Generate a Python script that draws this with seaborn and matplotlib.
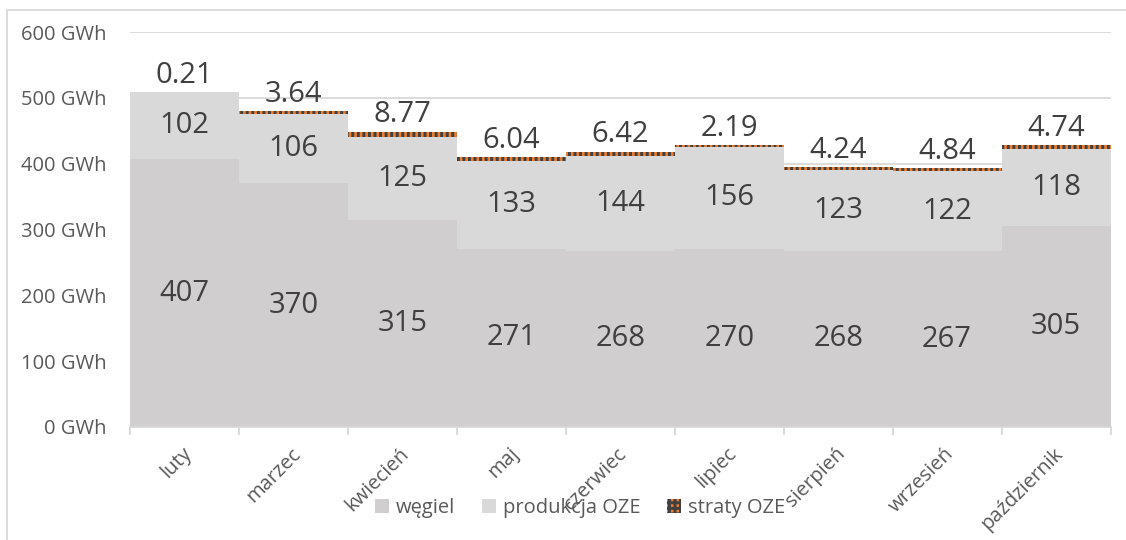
import matplotlib
matplotlib.use("Agg")
import matplotlib.pyplot as plt
from matplotlib.patches import Patch
from matplotlib.lines import Line2D
import seaborn as sns
import pandas as pd
import numpy as np

months = ["luty", "marzec", "kwiecień", "maj", "czerwiec", "lipiec", "sierpień", "wrzesień", "październik"]
wegiel = [407, 370, 315, 271, 268, 270, 268, 267, 305]
oze = [102, 106, 125, 133, 144, 156, 123, 122, 118]
straty = [0.21, 3.64, 8.77, 6.04, 6.42, 2.19, 4.24, 4.84, 4.74]
yticks = [0, 100, 200, 300, 400, 500, 600]

sns.set_theme(style="white")
plt.rcParams["font.family"] = ["Open Sans", "DejaVu Sans"]

df = pd.DataFrame({"miesiac": months, "wegiel": wegiel, "oze": oze, "straty": straty})
df["lvl2"] = df["wegiel"] + df["oze"]
df["lvl3"] = df["lvl2"] + df["straty"]

W, H = 1126, 540
fig = plt.figure(figsize=(W / 100, H / 100), dpi=100)
ax = fig.add_axes([130 / W, 1 - 427 / H, (1110.5 - 130) / W, (427 - 32) / H])

c_coal = "#d0cece"
c_oze = "#d9d9d9"
c_loss = "#ed7d31"
plt.rcParams["hatch.linewidth"] = 2.1

sns.barplot(data=df, x="miesiac", y="lvl3", color=c_loss, width=1.0, ax=ax,
            saturation=1, linewidth=0, edgecolor="#404040", hatch="|||", zorder=2)
sns.barplot(data=df, x="miesiac", y="lvl2", color=c_oze, width=1.0, ax=ax,
            saturation=1, linewidth=0, zorder=2)
sns.barplot(data=df, x="miesiac", y="wegiel", color=c_coal, width=1.0, ax=ax,
            saturation=1, linewidth=0, zorder=2)

ax.set_xlim(-0.5, len(months) - 0.5)
ax.set_ylim(0, 600)
ax.set_yticks(yticks)
ax.set_yticklabels([f"{v} GWh" for v in yticks], fontsize=14.5, color="#595959")
ax.yaxis.grid(True, color="#d9d9d9", linewidth=1.3, zorder=0)
ax.set_axisbelow(True)
ax.set_xlabel("")
ax.set_ylabel("")
for s in ["top", "right", "left"]:
    ax.spines[s].set_visible(False)
ax.spines["bottom"].set_color("#d9d9d9")
ax.spines["bottom"].set_linewidth(1.3)
ax.tick_params(axis="y", length=0, pad=17)

ax.set_xticks(range(len(months)))
ax.set_xticklabels(months, rotation=45, ha="right", rotation_mode="anchor",
                   fontsize=14.5, color="#595959")
ax.tick_params(axis="x", which="major", length=0, pad=12)
for lbl in ax.get_xticklabels():
    lbl.set_transform(lbl.get_transform() + matplotlib.transforms.ScaledTranslation(-0.03, 0, fig.dpi_scale_trans))
ax.set_xticks(np.arange(-0.5, len(months), 1.0), minor=True)
ax.tick_params(axis="x", which="minor", length=6, width=1.3, color="#d9d9d9", bottom=True)

lab_kw = dict(ha="center", va="center", fontsize=21, color="#404040")
for i in range(len(months)):
    ax.text(i, df["wegiel"][i] / 2, f"{wegiel[i]}", **lab_kw)
    ax.text(i, df["wegiel"][i] + df["oze"][i] / 2, f"{oze[i]}", **lab_kw)
    ax.annotate(f"{straty[i]:.2f}", (i, df["lvl3"][i]), xytext=(0, 1.5),
                textcoords="offset points", ha="center", va="bottom",
                fontsize=21, color="#404040")

handles = [Patch(facecolor=c_coal, edgecolor="none", label="węgiel"),
           Patch(facecolor=c_oze, edgecolor="none", label="produkcja OZE"),
           Patch(facecolor=c_loss, edgecolor="#404040", linewidth=0, hatch="+++", label="straty OZE")]
leg = fig.legend(handles=handles, loc="center", bbox_to_anchor=(580 / W, 1 - 508 / H),
                 ncol=3, frameon=False, fontsize=14.5, handlelength=0.7, handleheight=0.7,
                 handletextpad=0.35, columnspacing=1.3)
for t in leg.get_texts():
    t.set_color("#595959")

fig.add_artist(Line2D([7 / W, 1], [1 - 9.5 / H, 1 - 9.5 / H], color="#d9d9d9", linewidth=1.3,
                      transform=fig.transFigure))
fig.add_artist(Line2D([7 / W, 7 / W], [0, 1 - 9.5 / H], color="#d9d9d9", linewidth=1.3,
                      transform=fig.transFigure))

fig.savefig("out.png", dpi=100)
